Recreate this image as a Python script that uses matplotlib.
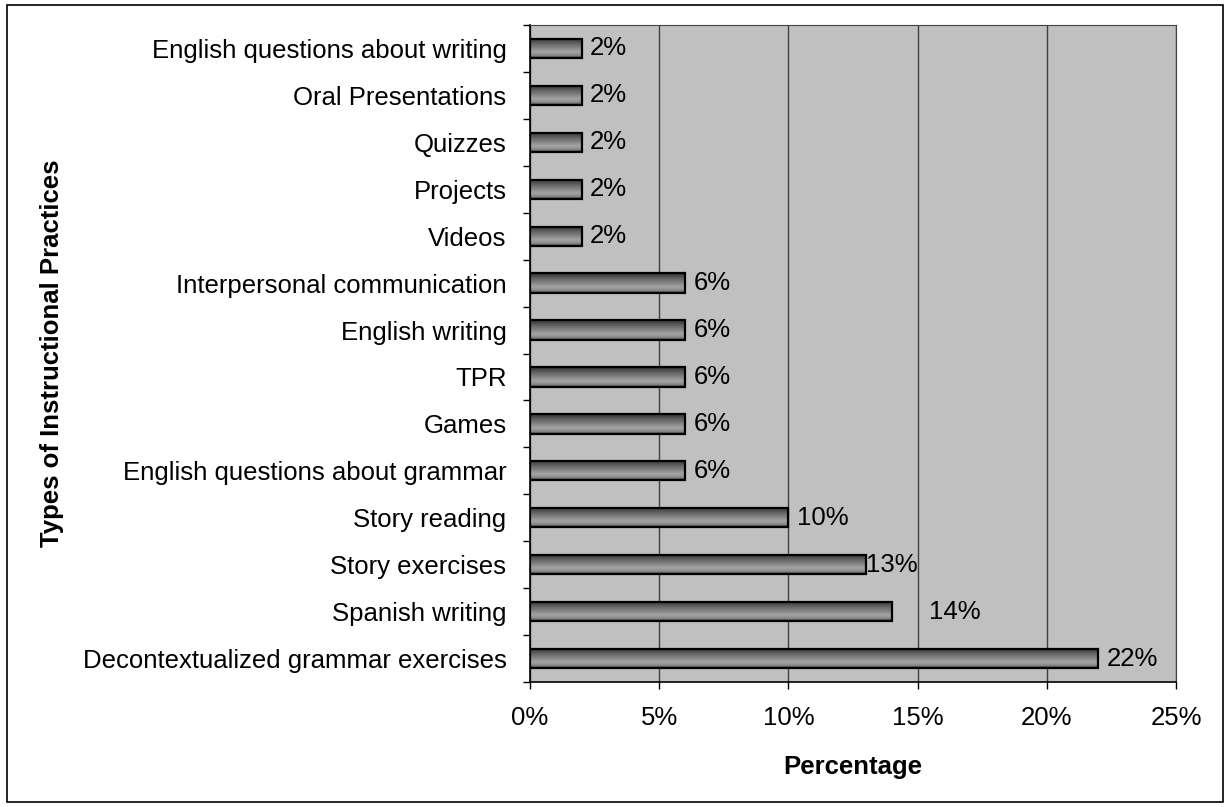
import matplotlib
import numpy as np

matplotlib.use("Agg")
import matplotlib.pyplot as plt
from matplotlib.colors import LinearSegmentedColormap
from matplotlib.patches import Rectangle
from matplotlib.ticker import FixedLocator, PercentFormatter

plt.rcParams["font.family"] = ["Liberation Sans", "DejaVu Sans"]

# bottom to top, as drawn
practices = [
    "Decontextualized grammar exercises",
    "Spanish writing",
    "Story exercises",
    "Story reading",
    "English questions about grammar",
    "Games",
    "TPR",
    "English writing",
    "Interpersonal communication",
    "Videos",
    "Projects",
    "Quizzes",
    "Oral Presentations",
    "English questions about writing",
]
percent = [22, 14, 13, 10, 6, 6, 6, 6, 6, 2, 2, 2, 2, 2]
# Excel placed a few labels oddly; offsets in points from bar end
label_offset = [6, 27, 0, 6, 6, 6, 6, 6, 6, 6, 6, 6, 6, 6]

FS = 18.5
W, H = 1231, 807
fig = plt.figure(figsize=(W / 100, H / 100), dpi=100)
fig.patches.append(Rectangle((7 / W, 5 / H), 1216 / W, 797 / H, transform=fig.transFigure,
                             fill=False, edgecolor="black", linewidth=1.2))

ax = fig.add_axes([530 / W, (H - 682) / H, 646 / W, 657 / H])
ax.set_facecolor("#c0c0c0")

grad = LinearSegmentedColormap.from_list(
    "bar", [(0, "#303030"), (0.25, "#606060"), (0.7, "#a4a4a4"), (0.88, "#888888"), (1, "#383838")]
)
g = np.linspace(0, 1, 64).reshape(-1, 1)
h = 0.41
y = np.arange(len(practices))
for yi, v in zip(y, percent):
    ax.imshow(g, cmap=grad, aspect="auto", extent=[0, v, yi - h / 2, yi + h / 2],
              origin="upper", zorder=2, interpolation="bilinear")
ax.barh(y, percent, height=h, fill=False, edgecolor="black", linewidth=1.6, zorder=3)

for yi, v, off in zip(y, percent, label_offset):
    ax.annotate(f"{v}%", (v, yi), xytext=(off, 0), textcoords="offset points",
                va="center", ha="left", fontsize=FS)

ax.set_xlim(0, 25)
ax.set_ylim(-0.5, len(practices) - 0.5)
ax.set_xticks([0, 5, 10, 15, 20, 25])
ax.xaxis.set_major_formatter(PercentFormatter(decimals=0))
ax.set_yticks(y)
ax.set_yticklabels(practices)
ax.yaxis.set_minor_locator(FixedLocator(np.arange(-0.5, len(practices), 1)))
ax.tick_params(axis="y", which="major", length=0, pad=17, labelsize=FS)
ax.tick_params(axis="y", which="minor", length=5, width=1)
ax.tick_params(axis="x", length=5, width=1, pad=12, labelsize=FS)
ax.grid(axis="x", color="#404040", linewidth=1, zorder=1)
ax.set_axisbelow(True)
for side in ("top", "right"):
    ax.spines[side].set_color("#404040")
for side in ("left", "bottom"):
    ax.spines[side].set_linewidth(1.2)

ax.set_xlabel("Percentage", fontsize=FS, fontweight="bold", labelpad=18)
ax.set_ylabel("Types of Instructional Practices", fontsize=FS, fontweight="bold")
ax.yaxis.set_label_coords(-0.722, 0.5)

fig.savefig("out.png", dpi=100)
